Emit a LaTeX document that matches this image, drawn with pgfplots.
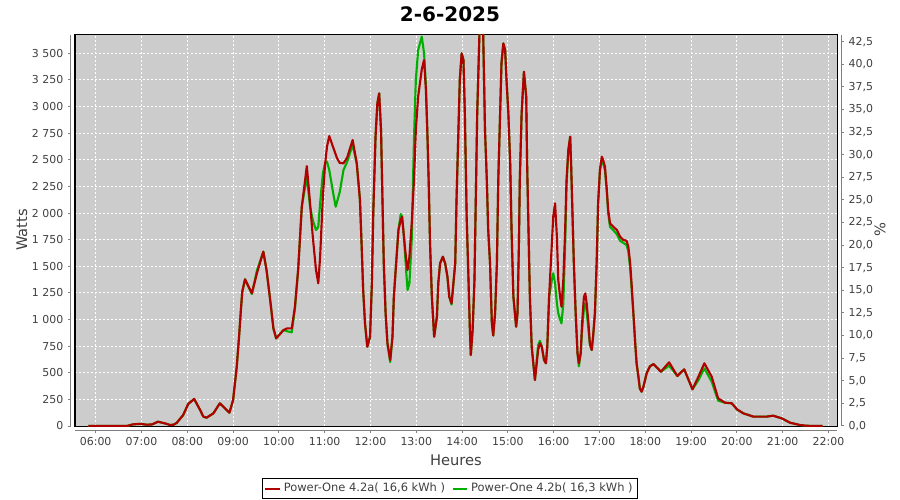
\documentclass[border=0pt]{standalone}
\usepackage{pgfplots}
\pgfplotsset{compat=1.18}
\usepackage{fontspec}
\setmainfont{DejaVu Sans}
\definecolor{bgc}{RGB}{204,204,204}
\definecolor{rc}{RGB}{176,0,0}
\definecolor{gc}{RGB}{0,176,0}
\definecolor{txt}{RGB}{64,64,64}
\definecolor{axc}{RGB}{128,128,128}

\pgfplotstableread{
h w
5.84 0
6.68 0
6.81 15
6.97 20
7.12 12
7.23 15
7.36 40
7.51 25
7.62 10
7.70 12
7.77 30
7.91 103
8.02 207
8.15 254
8.28 150
8.35 88
8.42 78
8.57 119
8.71 213
8.82 166
8.92 125
9.00 244
9.08 557
9.13 838
9.17 1089
9.20 1261
9.26 1378
9.41 1246
9.52 1434
9.66 1637
9.73 1465
9.81 1183
9.88 917
9.94 823
10.10 901
10.18 917
10.28 917
10.35 1120
10.42 1465
10.50 2059
10.61 2441
10.68 2094
10.74 1778
10.81 1465
10.86 1340
10.90 1590
10.96 2153
11.01 2467
11.05 2623
11.10 2723
11.18 2623
11.27 2514
11.33 2470
11.41 2467
11.49 2520
11.61 2686
11.70 2467
11.77 2122
11.81 1653
11.84 1277
11.88 964
11.93 745
11.99 838
12.03 1340
12.06 1997
12.11 2717
12.15 3030
12.19 3124
12.23 2779
12.26 2153
12.29 1528
12.33 1058
12.37 777
12.43 620
12.48 838
12.51 1214
12.56 1528
12.61 1840
12.66 1934
12.69 1966
12.73 1778
12.78 1559
12.81 1465
12.85 1590
12.90 1903
12.95 2310
12.99 2779
13.04 3092
13.12 3350
13.17 3437
13.21 3155
13.24 2779
13.27 2310
13.30 1715
13.34 1214
13.39 838
13.45 1026
13.48 1340
13.52 1528
13.58 1590
13.63 1528
13.68 1402
13.72 1214
13.77 1152
13.85 1528
13.88 2153
13.92 2779
13.95 3249
13.99 3500
14.03 3437
14.06 2936
14.10 1966
14.14 1371
14.17 901
14.19 667
14.23 901
14.27 1371
14.30 2153
14.33 2936
14.38 3700
14.43 3700
14.46 3700
14.50 2779
14.54 2310
14.57 1840
14.61 1528
14.65 964
14.68 850
14.72 1058
14.76 1528
14.79 2310
14.83 2936
14.86 3406
14.90 3593
14.94 3531
14.97 3249
15.01 2936
15.05 2467
15.08 1840
15.12 1214
15.18 932
15.21 1058
15.24 1684
15.26 2310
15.30 2936
15.35 3327
15.40 3092
15.42 2467
15.45 1840
15.48 1214
15.52 745
15.59 432
15.63 589
15.66 714
15.70 777
15.74 745
15.79 620
15.83 589
15.86 745
15.90 1214
15.96 1715
15.99 1966
16.03 2091
16.07 1778
16.10 1371
16.14 1214
16.17 1120
16.21 1371
16.25 1840
16.28 2310
16.32 2592
16.36 2717
16.38 2467
16.41 1997
16.44 1528
16.48 1058
16.52 683
16.55 589
16.59 683
16.62 964
16.66 1214
16.69 1246
16.72 1152
16.76 964
16.79 777
16.83 714
16.86 838
16.90 1058
16.94 1559
16.97 2091
17.01 2404
17.05 2529
17.08 2498
17.12 2435
17.16 2216
17.19 2028
17.23 1903
17.30 1872
17.38 1840
17.45 1778
17.52 1747
17.59 1740
17.63 1684
17.67 1528
17.70 1340
17.74 1058
17.78 777
17.81 589
17.85 463
17.88 354
17.92 322
17.96 370
18.03 495
18.10 560
18.18 582
18.34 510
18.52 598
18.70 470
18.85 532
19.03 345
19.16 463
19.29 589
19.45 463
19.59 260
19.74 219
19.89 213
20.00 157
20.14 119
20.36 88
20.65 88
20.79 97
20.98 72
21.16 31
21.38 9
21.52 2
21.87 0
}\reddata

\pgfplotstableread{
h w
5.84 0
6.68 0
6.81 15
6.97 20
7.12 12
7.23 15
7.36 40
7.51 25
7.62 10
7.70 12
7.77 30
7.91 103
8.02 207
8.15 254
8.28 150
8.35 88
8.42 78
8.57 119
8.71 213
8.82 166
8.92 125
9.00 244
9.08 557
9.13 838
9.17 1089
9.20 1261
9.26 1378
9.41 1240
9.52 1460
9.66 1637
9.73 1465
9.81 1183
9.88 917
9.94 823
10.10 901
10.18 890
10.28 880
10.35 1100
10.42 1465
10.50 2059
10.61 2341
10.68 2059
10.74 1934
10.81 1840
10.86 1870
10.90 2091
10.96 2373
11.01 2470
11.05 2482
11.10 2404
11.18 2200
11.24 2059
11.33 2200
11.41 2404
11.49 2480
11.61 2639
11.70 2467
11.77 2122
11.81 1653
11.84 1277
11.88 964
11.93 745
11.99 838
12.03 1340
12.06 1997
12.11 2717
12.15 3030
12.19 3124
12.23 2779
12.26 2153
12.29 1528
12.33 1058
12.37 777
12.43 600
12.48 838
12.51 1214
12.56 1528
12.61 1840
12.66 1990
12.69 1966
12.73 1778
12.78 1450
12.81 1277
12.85 1340
12.90 1750
12.95 2700
12.99 3249
13.04 3531
13.12 3656
13.17 3500
13.21 3200
13.24 2779
13.27 2310
13.30 1715
13.34 1214
13.39 838
13.45 1026
13.48 1340
13.52 1528
13.58 1590
13.63 1528
13.68 1402
13.72 1214
13.77 1140
13.85 1528
13.88 2153
13.92 2779
13.95 3249
13.99 3500
14.03 3437
14.06 2936
14.10 1966
14.14 1371
14.17 901
14.19 667
14.23 901
14.27 1371
14.30 2153
14.33 2936
14.38 3700
14.43 3700
14.46 3700
14.50 2779
14.54 2310
14.57 1840
14.61 1528
14.65 964
14.68 850
14.72 1058
14.76 1528
14.79 2310
14.83 2936
14.86 3406
14.90 3593
14.94 3531
14.97 3249
15.01 2936
15.05 2467
15.08 1840
15.12 1214
15.18 932
15.21 1058
15.24 1684
15.26 2310
15.30 2936
15.35 3327
15.40 3092
15.42 2467
15.45 1840
15.48 1214
15.52 745
15.59 432
15.63 620
15.66 760
15.70 800
15.74 745
15.79 620
15.83 589
15.86 745
15.90 1214
15.96 1371
15.99 1434
16.03 1340
16.07 1152
16.10 1058
16.14 1000
16.17 964
16.21 1150
16.25 1700
16.28 2250
16.32 2592
16.36 2717
16.38 2467
16.41 1997
16.44 1528
16.48 1058
16.52 683
16.55 560
16.59 683
16.62 900
16.66 1100
16.69 1150
16.72 1080
16.76 900
16.79 760
16.83 714
16.86 838
16.90 1058
16.94 1559
16.97 2091
17.01 2404
17.05 2500
17.08 2470
17.12 2400
17.16 2200
17.19 2000
17.23 1870
17.30 1840
17.38 1800
17.45 1740
17.52 1720
17.59 1700
17.63 1640
17.67 1480
17.70 1300
17.74 1058
17.78 777
17.81 589
17.85 463
17.88 354
17.92 322
17.96 370
18.03 495
18.10 560
18.18 582
18.34 510
18.52 566
18.70 470
18.85 532
19.03 345
19.16 430
19.29 541
19.45 416
19.59 238
19.74 219
19.89 213
20.00 157
20.14 119
20.36 88
20.65 88
20.79 97
20.98 72
21.16 31
21.38 9
21.52 2
21.87 0
}\greendata

\begin{document}
\begin{tikzpicture}[x=0.75pt,y=0.75pt]
\path[use as bounding box, fill=white] (0,0) rectangle (900,500);
\begin{axis}[
  at={(56.25pt,55.5pt)}, anchor=south west,
  width=571.5pt, height=293.25pt, scale only axis,
  xmin=5.548, xmax=22.186, ymin=0, ymax=3672,
  axis background/.style={fill=bgc},
  axis line style={black, line width=0.75pt},
  grid=major,
  major grid style={white, line width=0.75pt, dash pattern=on 1.5pt off 1.5pt},
  xtick={6,7,...,22},
  xticklabels={06:00,07:00,08:00,09:00,10:00,11:00,12:00,13:00,14:00,15:00,16:00,17:00,18:00,19:00,20:00,21:00,22:00},
  ytick={0,250,...,3500},
  yticklabels={0,250,500,750,1 000,1 250,1 500,1 750,2 000,2 250,2 500,2 750,3 000,3 250,3 500},
  tick align=outside, major tick length=2.25pt,
  xtick pos=left, ytick pos=left,
  xtick style={draw=axc, line width=0.75pt, yshift=-3pt},
  ytick style={draw=axc, line width=0.75pt, xshift=-3pt},
  ticklabel style={font=\fontsize{8.2}{10}\selectfont, text=txt},
  xticklabel style={yshift=-3pt},
  yticklabel style={xshift=-3pt},
  reverse legend,
  legend style={at={(0.492,-0.133)}, anchor=north, legend columns=2,
    draw=black, line width=0.75pt, font=\fontsize{8.6}{10.5}\selectfont, text=txt,
    inner sep=1.5pt, /tikz/every even column/.append style={column sep=3pt}},
  legend image code/.code={\draw[#1, line width=1.5pt] (0pt,0pt) -- (11pt,0pt);},
  after end axis/.code={
    \draw[axc, line width=0.75pt] ([xshift=-3pt]rel axis cs:0,0) -- ([xshift=-3pt]rel axis cs:0,1);
    \draw[axc, line width=0.75pt] ([yshift=-3pt]rel axis cs:0,0) -- ([yshift=-3pt]rel axis cs:1,0);
    \draw[axc, line width=0.75pt] ([xshift=3pt]rel axis cs:1,0) -- ([xshift=3pt]rel axis cs:1,1);
  },
]
\addplot[gc, line width=1.6pt, line join=round] table[x=h, y=w] {\greendata};
\addlegendentry{Power-One 4.2b( 16,3 kWh )}
\addplot[rc, line width=1.6pt, line join=round] table[x=h, y=w] {\reddata};
\addlegendentry{Power-One 4.2a( 16,6 kWh )}
\end{axis}
\begin{axis}[
  at={(56.25pt,55.5pt)}, anchor=south west,
  width=571.5pt, height=293.25pt, scale only axis,
  xmin=5.548, xmax=22.186, ymin=0, ymax=43.24,
  axis x line=none, axis y line*=right,
  y axis line style={draw=none},
  ytick={0,2.5,...,42.5},
  yticklabels={{0,0},{2,5},{5,0},{7,5},{10,0},{12,5},{15,0},{17,5},{20,0},{22,5},{25,0},{27,5},{30,0},{32,5},{35,0},{37,5},{40,0},{42,5}},
  tick align=outside, major tick length=2.25pt,
  ytick style={draw=axc, line width=0.75pt, xshift=3pt},
  yticklabel style={font=\fontsize{8.2}{10}\selectfont, text=txt, xshift=3pt},
]
\addplot[draw=none] coordinates {(6,0)};
\end{axis}
\node[font=\bfseries\fontsize{15}{18}\selectfont] at (450,486) {2-6-2025};
\node[rotate=90, font=\fontsize{11}{13}\selectfont, text=txt] at (22,270) {Watts};
\node[font=\fontsize{11}{13}\selectfont, text=txt] at (456,40) {Heures};
\node[rotate=90, font=\fontsize{11}{13}\selectfont, text=txt] at (880,270) {\%};
\end{tikzpicture}
\end{document}
